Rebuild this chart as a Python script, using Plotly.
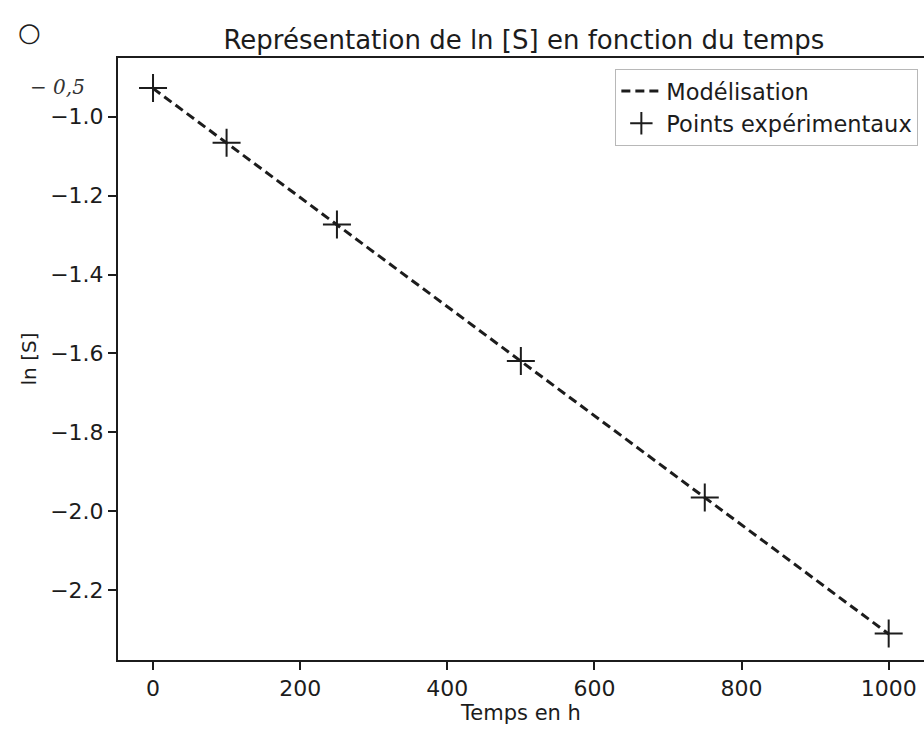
import plotly.graph_objects as go

# Experimental measurements: time (h) and ln[S]
temps_h = [0, 100, 250, 500, 750, 1000]
ln_s = [-0.927, -1.066, -1.273, -1.619, -1.965, -2.310]

# Linear model (end points of the fitted line)
modele_t = [0, 1000]
modele_ln_s = [-0.928, -2.311]

x_ticks = [0, 200, 400, 600, 800, 1000]
y_ticks = [-1.0, -1.2, -1.4, -1.6, -1.8, -2.0, -2.2]

ink = "#1c1c1c"
font_family = "DejaVu Sans"

fig = go.Figure()

fig.add_trace(go.Scatter(
    x=modele_t, y=modele_ln_s, mode="lines", name="Modélisation",
    line=dict(color=ink, width=3, dash="9px,5px"),
))
fig.add_trace(go.Scatter(
    x=temps_h, y=ln_s, mode="markers", name="Points expérimentaux",
    marker=dict(symbol="cross-thin", size=20, color=ink,
                line=dict(color=ink, width=2)),
))

fig.update_layout(
    width=924, height=729,
    margin=dict(l=118, r=0, t=58, b=69),
    paper_bgcolor="white", plot_bgcolor="white",
    font=dict(family=font_family, color=ink, size=21),
    title=dict(text="Représentation de ln [S] en fonction du temps",
               x=0.567, xanchor="center", y=0.945, yanchor="middle",
               font=dict(size=26, family=font_family, color=ink)),
    showlegend=True,
    legend=dict(x=0.993, xanchor="right", y=0.982, yanchor="top",
                bgcolor="white", bordercolor="#b8b8b8", borderwidth=1,
                font=dict(size=22.5, family=font_family, color=ink),
                itemwidth=40, tracegroupgap=0),
)

fig.update_xaxes(
    range=[-47.6, 1048], tickvals=x_ticks, ticktext=[str(v) for v in x_ticks],
    showgrid=False, zeroline=False,
    showline=True, linecolor=ink, linewidth=2, mirror=True,
    ticks="outside", ticklen=8, tickwidth=1.5, tickcolor=ink,
    tickfont=dict(size=22), title=dict(text="Temps en h", font=dict(size=21), standoff=4),
)
fig.update_yaxes(
    range=[-2.377, -0.851], tickvals=y_ticks, tickformat=".1f",
    showgrid=False, zeroline=False,
    showline=True, linecolor=ink, linewidth=2,
    ticks="outside", ticklen=8, tickwidth=1.5, tickcolor=ink,
    tickfont=dict(size=22), title=dict(text="ln [S]", font=dict(size=20), standoff=8),
)

# Handwritten marks in the top-left corner
fig.add_annotation(text="○", xref="paper", yref="paper", x=-0.11, y=1.043,
                   xanchor="center", yanchor="middle",
                   showarrow=False, font=dict(size=26, color=ink, family="DejaVu Sans"))
fig.add_annotation(text="<i>− 0,5</i>", xref="paper", yref="paper", x=-0.075, y=0.951,
                   xanchor="center", yanchor="middle",
                   showarrow=False, font=dict(size=20, color="#333333", family="DejaVu Serif"))

fig.write_html("out.html")
